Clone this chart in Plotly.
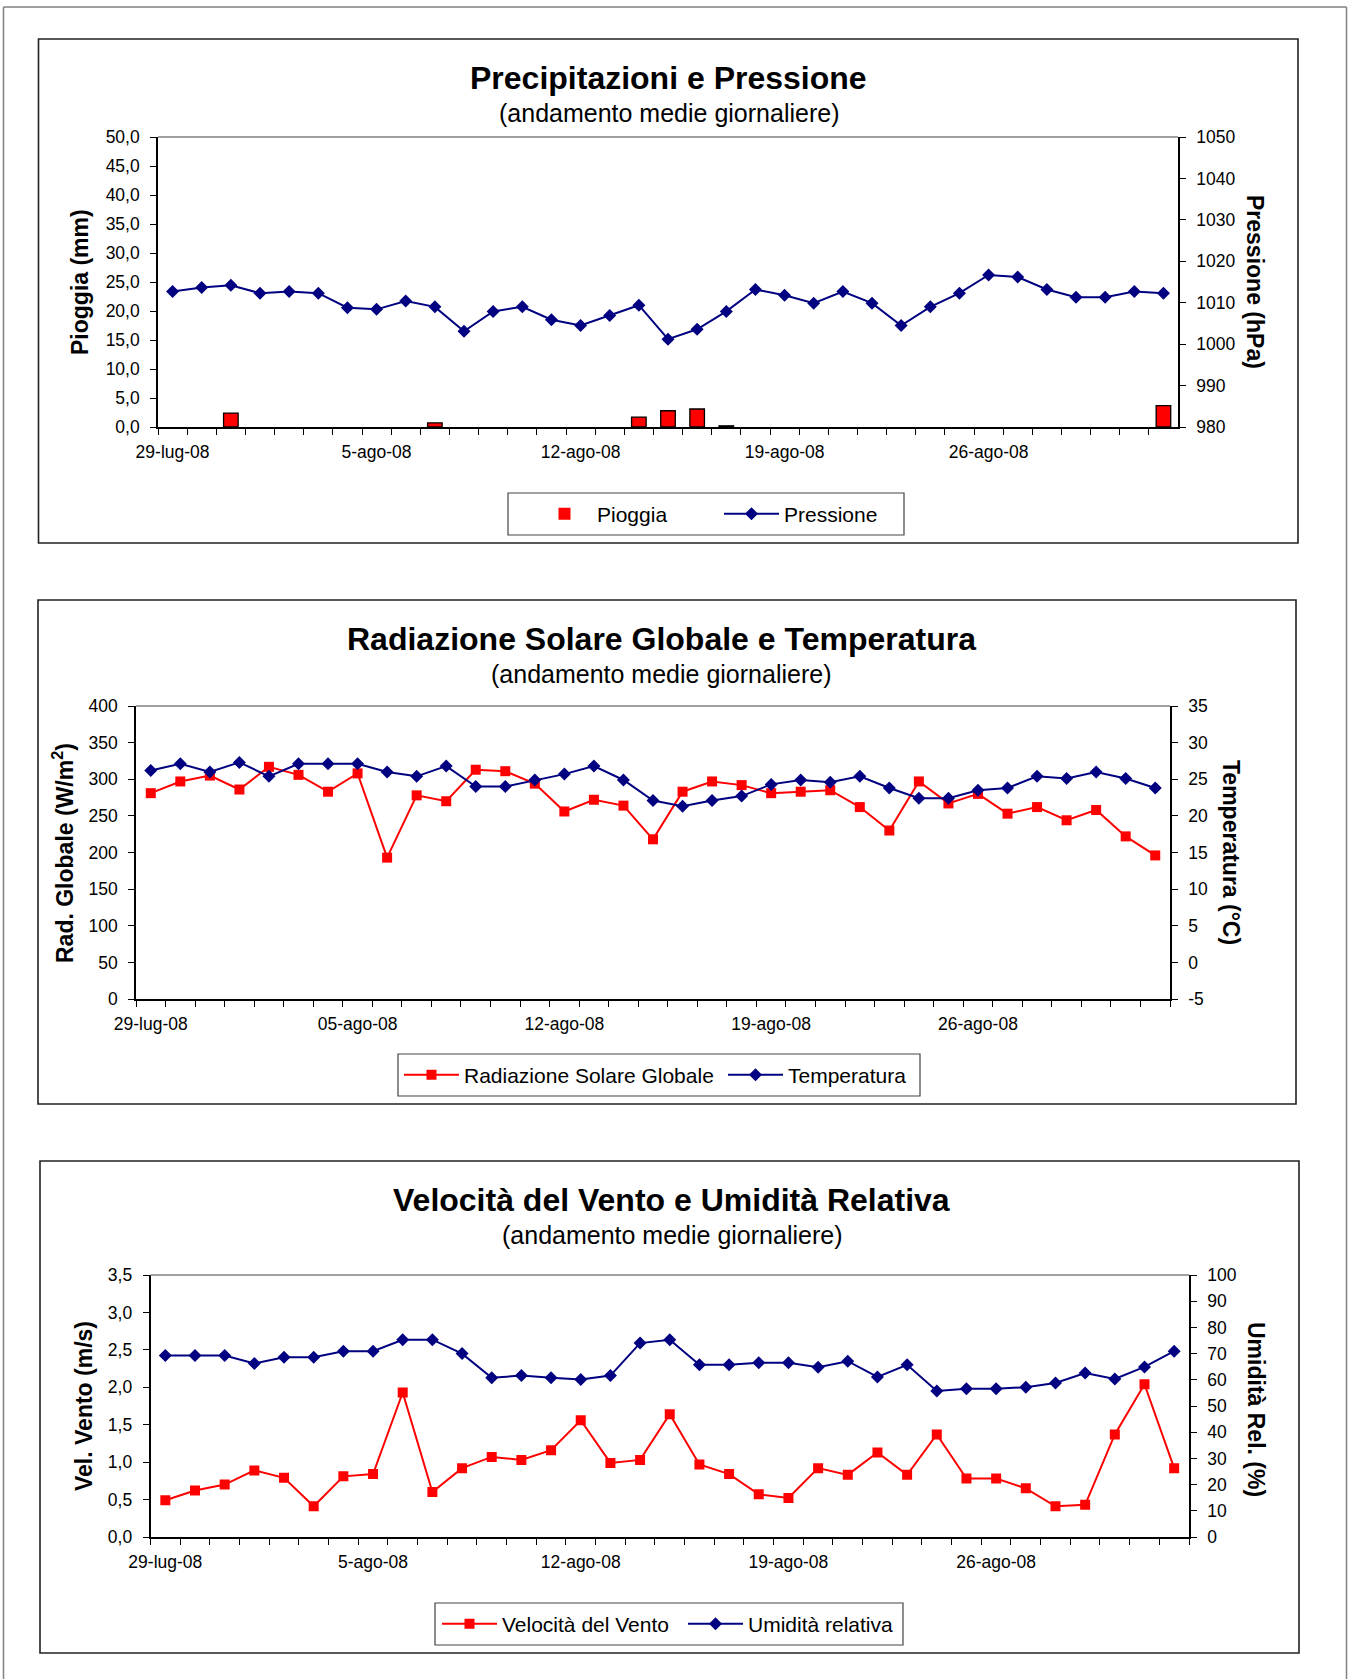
import plotly.graph_objects as go

# ---------------------------------------------------------------- data
giorni = [
    "29-lug-08", "30-lug-08", "31-lug-08",
    "1-ago-08", "2-ago-08", "3-ago-08", "4-ago-08", "5-ago-08", "6-ago-08", "7-ago-08",
    "8-ago-08", "9-ago-08", "10-ago-08", "11-ago-08", "12-ago-08", "13-ago-08", "14-ago-08",
    "15-ago-08", "16-ago-08", "17-ago-08", "18-ago-08", "19-ago-08", "20-ago-08", "21-ago-08",
    "22-ago-08", "23-ago-08", "24-ago-08", "25-ago-08", "26-ago-08", "27-ago-08", "28-ago-08",
    "29-ago-08", "30-ago-08", "31-ago-08", "1-set-08",
]

# labelled days on the time axis
etichette_x = ["29-lug-08", "5-ago-08", "12-ago-08", "19-ago-08", "26-ago-08"]
etichette_x_rad = ["29-lug-08", "05-ago-08", "12-ago-08", "19-ago-08", "26-ago-08"]

pioggia = [0, 0, 2.4, 0, 0, 0, 0, 0, 0, 0.7, 0, 0, 0, 0, 0, 0, 1.7, 2.8, 3.1, 0.2,
           0, 0, 0, 0, 0, 0, 0, 0, 0, 0, 0, 0, 0, 0, 3.7]

pressione = [1012.7, 1013.7, 1014.2, 1012.3, 1012.7, 1012.3, 1008.8, 1008.4, 1010.4, 1009.0,
             1003.1, 1007.9, 1009.0, 1005.9, 1004.5, 1006.9, 1009.4, 1001.2, 1003.6, 1007.9,
             1013.2, 1011.8, 1009.9, 1012.7, 1009.9, 1004.5, 1009.0, 1012.3, 1016.7, 1016.2,
             1013.2, 1011.3, 1011.3, 1012.7, 1012.3]

radiazione = [281, 297, 305, 286, 317, 306, 283, 308, 193, 278,
              270, 313, 311, 294, 256, 272, 264, 218, 283, 297,
              292, 281, 283, 285, 262, 230, 297, 267, 280, 253,
              262, 244, 258, 222, 196]

temperatura = [26.2, 27.1, 26.0, 27.3, 25.4, 27.1, 27.1, 27.1, 26.0, 25.4,
               26.8, 24.0, 24.0, 24.9, 25.7, 26.8, 24.9, 22.1, 21.3, 22.1,
               22.7, 24.3, 24.9, 24.6, 25.4, 23.8, 22.4, 22.4, 23.5, 23.8,
               25.4, 25.1, 26.0, 25.1, 23.8]

vento = [0.49, 0.62, 0.70, 0.89, 0.79, 0.41, 0.81, 0.84, 1.93, 0.60,
         0.92, 1.07, 1.03, 1.16, 1.56, 0.99, 1.03, 1.64, 0.97, 0.84,
         0.57, 0.52, 0.92, 0.83, 1.13, 0.83, 1.37, 0.78, 0.78, 0.65,
         0.41, 0.43, 1.37, 2.04, 0.92]

umidita = [69.3, 69.3, 69.3, 66.2, 68.6, 68.6, 70.9, 70.9, 75.3, 75.3,
           70.0, 60.8, 61.6, 60.8, 60.1, 61.6, 74.0, 75.3, 65.7, 65.7,
           66.5, 66.5, 64.8, 67.1, 61.1, 65.7, 55.7, 56.6, 56.6, 57.2,
           58.8, 62.6, 60.3, 64.9, 70.9]

temp_ticks = [-5, 0, 5, 10, 15, 20, 25, 30, 35]

# ---------------------------------------------------------------- page geometry
W, H = 1353, 1679
FONT = "Liberation Sans, Arial, sans-serif"
NAVY = "#000080"
RED = "#FF0000"
N = len(giorni)


def px(x):
    return x / W


def py(y):
    return 1 - y / H


def tick_text(labels):
    names = dict(zip(etichette_x, labels))
    return [names.get(g, "") for g in giorni]


tickfont = dict(family=FONT, size=17.5, color="#000")
TICK = dict(ticklen=6, tickwidth=1.3, tickcolor="#000")


def x_axis(x0, x1, anchor, labels):
    return dict(
        domain=[px(x0), px(x1)], anchor=anchor, type="category", automargin=False,
        categoryorder="array", categoryarray=giorni, range=[-0.5, N - 0.5],
        tickmode="array", tickvals=giorni, ticktext=tick_text(labels),
        tickson="boundaries", ticks="outside", **TICK,
        tickangle=0, ticklabelstandoff=8,
        showline=True, linecolor="#000", linewidth=1.6,
        showgrid=False, zeroline=False, tickfont=tickfont,
    )


def x_inner(base, anchor):
    # second set of tick marks on the inner side, so the day ticks cross the axis
    return dict(
        overlaying=base, anchor=anchor, type="linear", range=[-0.5, N - 0.5],
        tickmode="array", tickvals=[i - 0.5 for i in range(N + 1)], automargin=False,
        ticks="inside", **TICK, showticklabels=False,
        showline=False, showgrid=False, zeroline=False,
    )


def y_axis(y0, y1, anchor, rng, dtick, fmt=None, side="left", overlaying=None, **kw):
    d = dict(
        domain=[py(y1), py(y0)], anchor=anchor, range=rng, dtick=dtick, tick0=rng[0],
        side=side, ticks="outside", **TICK, automargin=False,
        ticklabelstandoff=7,
        showline=True, linecolor="#000", linewidth=1.6,
        showgrid=False, zeroline=False, tickfont=tickfont,
    )
    if fmt:
        d["tickformat"] = fmt
    if overlaying:
        d["overlaying"] = overlaying
    d.update(kw)
    return d


def y_inner(base, anchor, rng, dtick, side):
    return dict(
        overlaying=base, anchor=anchor, side=side, range=rng, dtick=dtick, tick0=rng[0],
        ticks="inside", **TICK, showticklabels=False, automargin=False,
        showline=False, showgrid=False, zeroline=False,
    )


fig = go.Figure()

# ---- 1: rain and pressure
fig.add_trace(go.Bar(
    x=giorni, y=pioggia, name="Pioggia", width=0.5, legendwidth=117,
    marker=dict(color=RED, line=dict(color="#000", width=[1.3 if v > 0 else 0 for v in pioggia])),
    xaxis="x", yaxis="y", legend="legend",
))
fig.add_trace(go.Scatter(
    x=giorni, y=pressione, name="Pressione", mode="lines+markers",
    line=dict(color=NAVY, width=2), marker=dict(symbol="diamond", size=10, color=NAVY),
    xaxis="x", yaxis="y2", legend="legend",
))

# ---- 2: solar radiation and temperature
fig.add_trace(go.Scatter(
    x=giorni, y=radiazione, name="Radiazione Solare Globale", mode="lines+markers",
    legendwidth=254,
    line=dict(color=RED, width=2), marker=dict(symbol="square", size=10, color=RED),
    xaxis="x2", yaxis="y3", legend="legend2",
))
fig.add_trace(go.Scatter(
    x=giorni, y=temperatura, name="Temperatura", mode="lines+markers",
    line=dict(color=NAVY, width=2), marker=dict(symbol="diamond", size=10, color=NAVY),
    xaxis="x2", yaxis="y4", legend="legend2",
))

# ---- 3: wind speed and relative humidity
fig.add_trace(go.Scatter(
    x=giorni, y=vento, name="Velocità del Vento", mode="lines+markers",
    legendwidth=176,
    line=dict(color=RED, width=2), marker=dict(symbol="square", size=10, color=RED),
    xaxis="x3", yaxis="y5", legend="legend3",
))
fig.add_trace(go.Scatter(
    x=giorni, y=umidita, name="Umidità relativa", mode="lines+markers",
    line=dict(color=NAVY, width=2), marker=dict(symbol="diamond", size=10, color=NAVY),
    xaxis="x3", yaxis="y6", legend="legend3",
))

# plot-area rectangles (pixels)
P1 = (158, 137, 1178, 427)
P2 = (136, 706, 1170, 999)
P3 = (150.5, 1275, 1189, 1537)

layout = dict(
    width=W, height=H, autosize=False,
    margin=dict(l=0, r=0, t=0, b=0, pad=0, autoexpand=False),
    paper_bgcolor="#fff", plot_bgcolor="rgba(0,0,0,0)",
    separators=", ", showlegend=True,
    font=dict(family=FONT, color="#000"),
    xaxis=x_axis(P1[0], P1[2], "y", etichette_x),
    yaxis=y_axis(P1[1], P1[3], "x", [0, 50], 5, ".1f"),
    yaxis2=y_axis(P1[1], P1[3], "x", [980, 1050], 10, side="right", overlaying="y"),
    xaxis2=x_axis(P2[0], P2[2], "y3", etichette_x_rad),
    yaxis3=y_axis(P2[1], P2[3], "x2", [0, 400], 50),
    yaxis4=y_axis(P2[1], P2[3], "x2", [-5, 35], 5, side="right", overlaying="y3",
                  tickmode="array", tickvals=temp_ticks, ticktext=[str(t) for t in temp_ticks]),
    xaxis3=x_axis(P3[0], P3[2], "y5", etichette_x),
    yaxis5=y_axis(P3[1], P3[3], "x3", [0, 3.5], 0.5, ".1f"),
    yaxis6=y_axis(P3[1], P3[3], "x3", [0, 100], 10, side="right", overlaying="y5"),
    # inner halves of the crossing tick marks
    xaxis4=x_inner("x", "y"),
    yaxis7=y_inner("y", "x", [0, 50], 5, "left"),
    yaxis8=y_inner("y", "x", [980, 1050], 10, "right"),
    xaxis5=x_inner("x2", "y3"),
    yaxis9=y_inner("y3", "x2", [0, 400], 50, "left"),
    yaxis10=y_inner("y3", "x2", [-5, 35], 5, "right"),
    xaxis6=x_inner("x3", "y5"),
    yaxis11=y_inner("y5", "x3", [0, 3.5], 0.5, "left"),
    yaxis12=y_inner("y5", "x3", [0, 100], 10, "right"),
)

legend_common = dict(
    orientation="h", xanchor="left", yanchor="middle", bgcolor="rgba(0,0,0,0)",
    borderwidth=0, itemwidth=55,
    font=dict(family=FONT, size=21, color="#000"), traceorder="normal",
)
layout["legend"] = dict(legend_common, x=px(532), y=py(514))
layout["legend2"] = dict(legend_common, x=px(399), y=py(1075))
layout["legend3"] = dict(legend_common, x=px(437), y=py(1624))

fig.update_layout(**layout)

# ---------------------------------------------------------------- frames
shapes = []
# page frame (open at the bottom)
for x0, y0, x1, y1 in [(3.5, 7, 1346.5, 7), (3.5, 7, 3.5, H), (1346.5, 7, 1346.5, H)]:
    shapes.append(dict(type="line", xref="paper", yref="paper",
                       x0=px(x0), y0=py(y0), x1=px(x1), y1=py(y1),
                       line=dict(color="#808080", width=1.5)))
# chart borders
for x0, y0, x1, y1 in [(38.5, 39, 1298, 543), (38, 600, 1296, 1104), (40, 1161, 1299, 1653)]:
    shapes.append(dict(type="rect", xref="paper", yref="paper",
                       x0=px(x0), y0=py(y0), x1=px(x1), y1=py(y1),
                       line=dict(color="#222", width=1.6), layer="below"))
# legend borders
for x0, y0, x1, y1 in [(508, 493, 904, 535), (398, 1054, 920, 1096), (435, 1603, 903, 1645)]:
    shapes.append(dict(type="rect", xref="paper", yref="paper",
                       x0=px(x0), y0=py(y0), x1=px(x1), y1=py(y1),
                       line=dict(color="#444", width=1.2), layer="below"))
# top edge of each plot area
for xa, ya in [("x", "y"), ("x2", "y3"), ("x3", "y5")]:
    shapes.append(dict(type="line", xref=f"{xa} domain", yref=f"{ya} domain",
                       x0=0, x1=1, y0=1, y1=1, line=dict(color="#808080", width=1.6)))
fig.update_layout(shapes=shapes)

# ---------------------------------------------------------------- texts
ann = []


def text(x, y, s, size, bold=False, angle=0):
    ann.append(dict(
        x=px(x), y=py(y), xref="paper", yref="paper", xanchor="center", yanchor="middle",
        text=f"<b>{s}</b>" if bold else s, showarrow=False, textangle=angle,
        font=dict(family=FONT, size=size, color="#000"),
    ))


text(668, 78, "Precipitazioni e Pressione", 32, bold=True)
text(669, 113, "(andamento medie giornaliere)", 25)
text(80, 282, "Pioggia (mm)", 23, bold=True, angle=-90)
text(1255, 282, "Pressione (hPa)", 23, bold=True, angle=90)

text(661, 639, "Radiazione Solare Globale e Temperatura", 32, bold=True)
text(661, 674, "(andamento medie giornaliere)", 25)
text(63, 853, "Rad. Globale (W/m<sup>2</sup>)", 23, bold=True, angle=-90)
text(1231, 852, "Temperatura (°C)", 23, bold=True, angle=90)

text(671, 1200, "Velocità del Vento e Umidità Relativa", 32, bold=True)
text(672, 1235, "(andamento medie giornaliere)", 25)
text(84, 1406, "Vel. Vento (m/s)", 23, bold=True, angle=-90)
text(1256, 1409, "Umidità Rel. (%)", 23, bold=True, angle=90)

fig.update_layout(annotations=ann)

fig.write_html(
    "out.html",
    post_script="document.body.style.margin='0';document.body.style.overflow='hidden';",
)
